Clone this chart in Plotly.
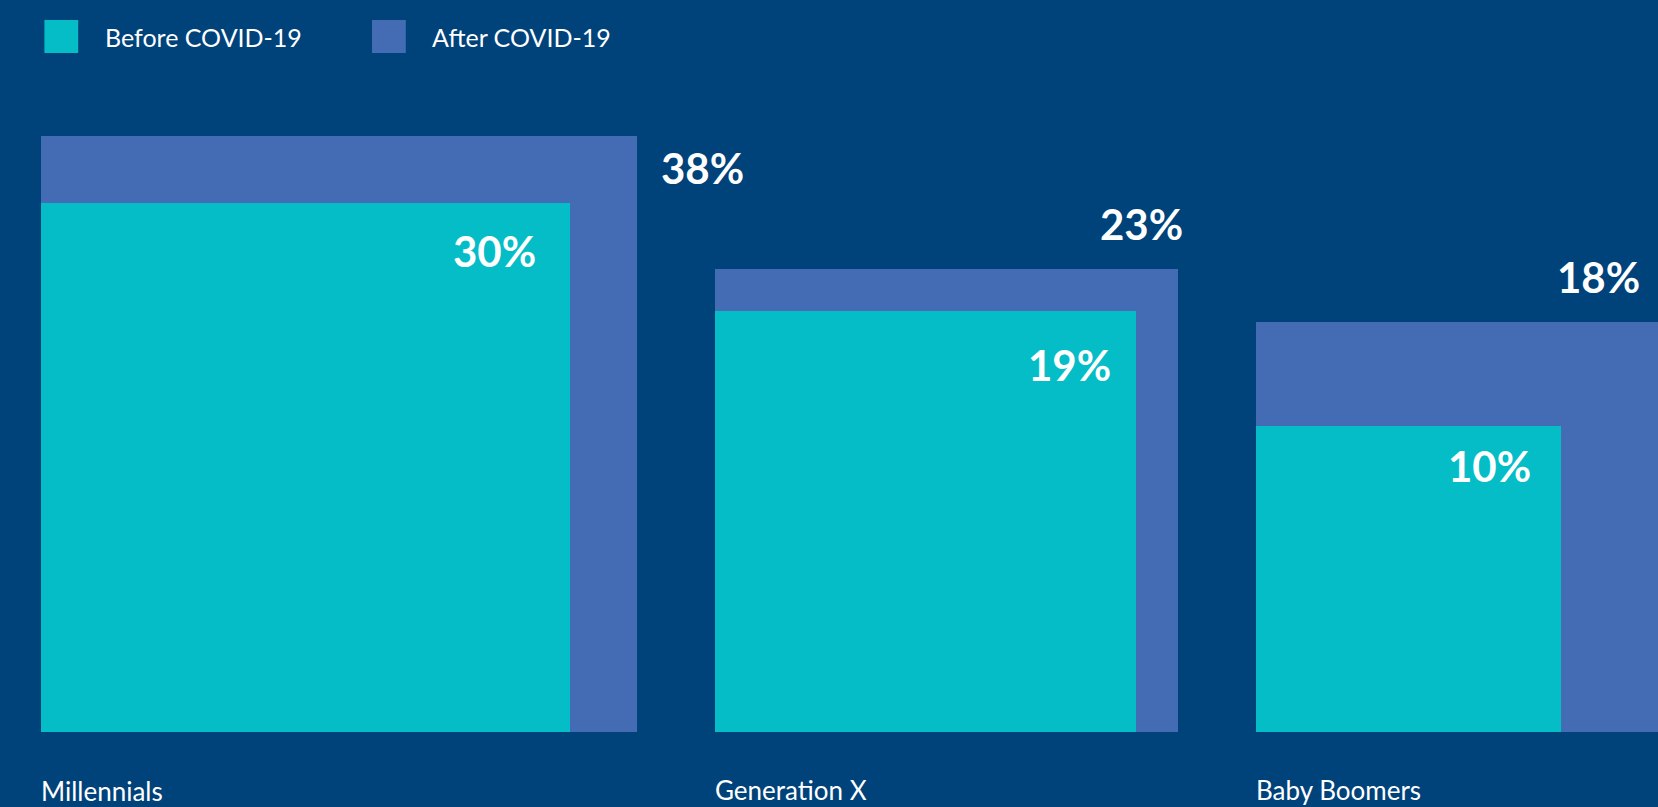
import numpy as np
import plotly.graph_objects as go

# Share of each generation, before vs. after COVID-19 (%)
groups = ["Millennials", "Generation X", "Baby Boomers"]
before = [30, 19, 10]
after = [38, 23, 18]
series_names = ["Before COVID-19", "After COVID-19"]

# Colours
BG = "#00427a"
AFTER_C = "#436cb4"
BEFORE_C = "#04bdc6"
FONT = "Lato"

# Canvas geometry (pixels)
W, H = 1658, 807
PX = 96.57        # pixels per unit of square side (side = sqrt(value))
GAP = 0.81        # gap between groups, in side units
ORIGIN_X = 41.2   # pixel position of x = 0
BASE_Y = 731.7    # pixel position of y = 0 (from top)

side_after = np.sqrt(after)
side_before = np.sqrt(before)

# Left edge of each group: squares are laid out one after another
lefts = []
pos = 0.0
for s in side_after:
    lefts.append(pos)
    pos += s + GAP
lefts = np.array(lefts)

fig = go.Figure()

# Outer square: after COVID-19 (area proportional to value)
fig.add_trace(go.Bar(
    x=lefts + side_after / 2, y=side_after, width=side_after, base=0,
    marker=dict(color=AFTER_C, line=dict(width=0)),
    name=series_names[1], showlegend=False, hoverinfo="skip",
))
# Inner square: before COVID-19
fig.add_trace(go.Bar(
    x=lefts + side_before / 2, y=side_before, width=side_before, base=0,
    marker=dict(color=BEFORE_C, line=dict(width=0)),
    name=series_names[0], showlegend=False, hoverinfo="skip",
))

annotations = []

# Label placement: (dx from square's right edge, dy from square's top), px
after_label_off = [(110, 32), (7, -45), (-24, -45)]
before_label_off = [(-32, 48), (-23, 54), (-28, 40)]

value_font = dict(family=FONT, size=42, color="white", weight=700)

for i in range(len(groups)):
    # Anchor at the square's left edge so the label stays visible even when
    # the square runs past the right edge of the canvas.
    dx, dy = after_label_off[i]
    annotations.append(dict(
        x=lefts[i], y=side_after[i], xref="x", yref="y",
        text=f"{after[i]}%", showarrow=False, xanchor="right", yanchor="middle",
        xshift=side_after[i] * PX + dx, yshift=-dy, font=value_font,
    ))
    dx, dy = before_label_off[i]
    annotations.append(dict(
        x=lefts[i], y=side_before[i], xref="x", yref="y",
        text=f"{before[i]}%", showarrow=False, xanchor="right", yanchor="middle",
        xshift=side_before[i] * PX + dx, yshift=-dy, font=value_font,
    ))
    # Group name under each pair of squares
    annotations.append(dict(
        x=lefts[i], y=0, xref="x", yref="y",
        text=groups[i], showarrow=False, xanchor="left", yanchor="middle",
        xshift=-2, yshift=-(59 if i == 0 else 58),
        font=dict(family=FONT, size=26, color="white"),
    ))

# Legend keys drawn along the top
shapes = []
legend_items = [(series_names[0], BEFORE_C, 44.4, 103.0),
                (series_names[1], AFTER_C, 372.0, 429.5)]
for name, col, sx, tx in legend_items:
    shapes.append(dict(
        type="rect", xref="paper", yref="paper",
        x0=sx / W, x1=(sx + 33.8) / W, y0=1 - 53 / H, y1=1 - 20 / H,
        fillcolor=col, line=dict(width=0), layer="above",
    ))
    annotations.append(dict(
        x=tx / W, y=1 - 37 / H, xref="paper", yref="paper",
        text=name, showarrow=False, xanchor="left", yanchor="middle",
        font=dict(family=FONT, size=25, color="white"),
    ))

fig.update_layout(
    width=W, height=H,
    margin=dict(l=0, r=0, t=0, b=0),
    paper_bgcolor=BG, plot_bgcolor=BG,
    barmode="overlay", bargap=0,
    xaxis=dict(range=[-ORIGIN_X / PX, (W - ORIGIN_X) / PX], visible=False,
               fixedrange=True),
    yaxis=dict(range=[-(H - BASE_Y) / PX, BASE_Y / PX], visible=False,
               fixedrange=True),
    annotations=annotations,
    shapes=shapes,
    showlegend=False,
)

fig.write_html("out.html", config={"displayModeBar": False})
